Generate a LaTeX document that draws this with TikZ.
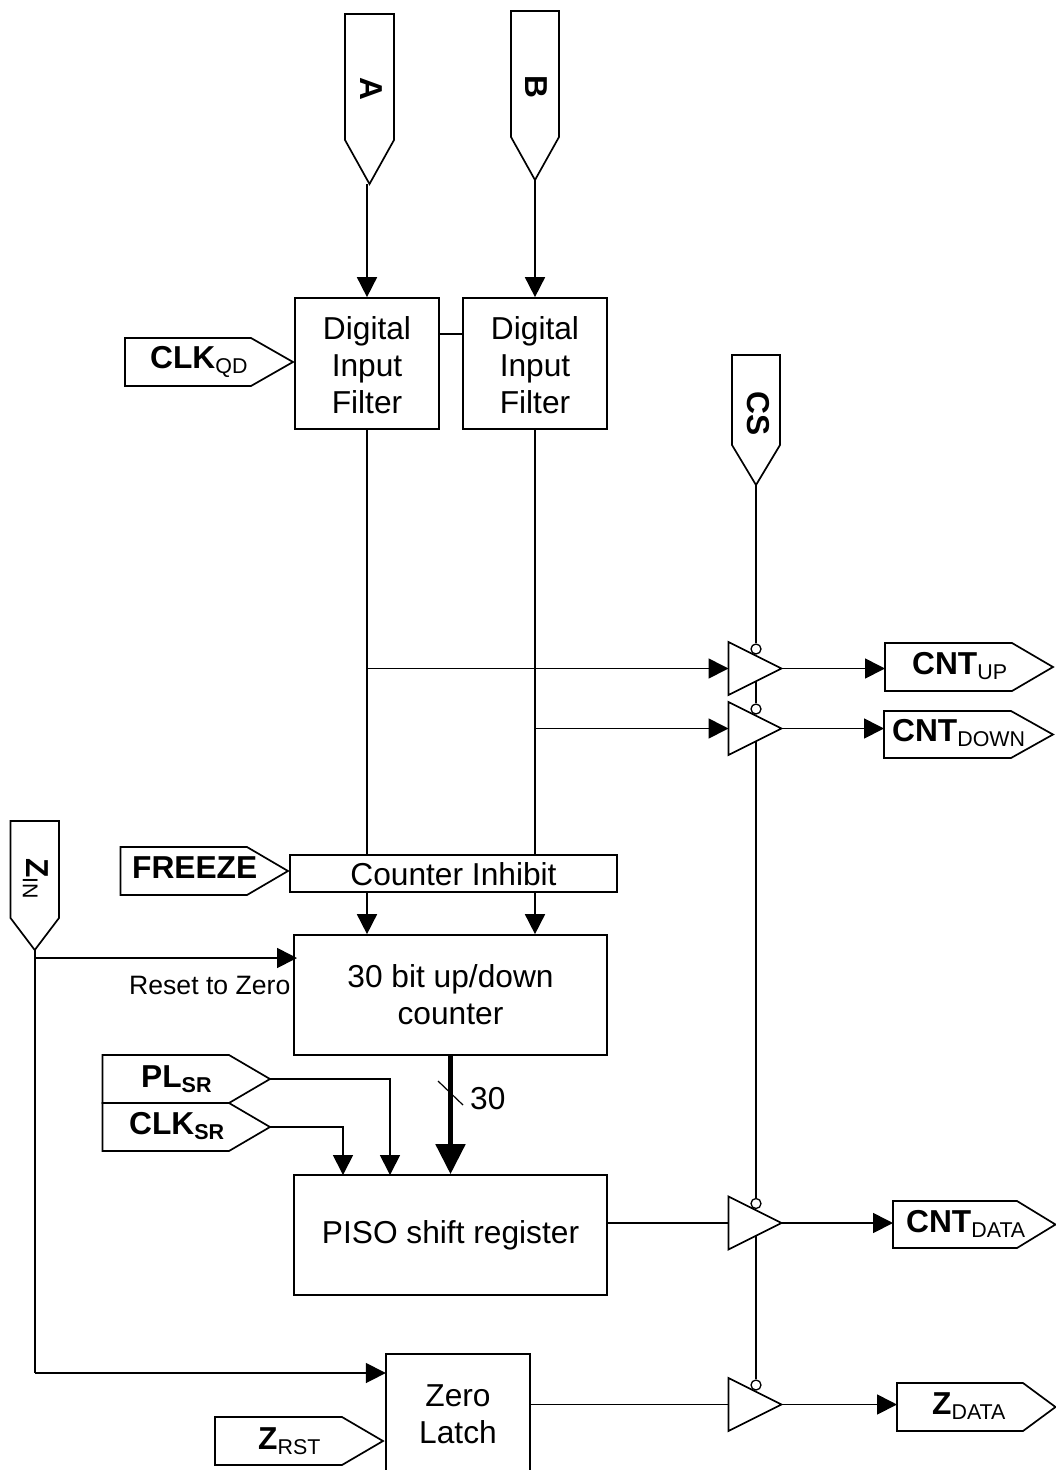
\documentclass[tikz,border=0pt]{standalone}
\usepackage{fontspec}
\setmainfont{Liberation Sans}
\usetikzlibrary{arrows.meta,calc}
\newcommand{\bigf}{\fontsize{31.7}{37}\selectfont}
\newcommand{\midf}{\fontsize{26.6}{32}\selectfont}
\newcommand{\subf}{\fontsize{21.4}{24}\selectfont}
\newcommand{\bsubf}{\fontsize{21.5}{24}\selectfont\bfseries}
\newcommand{\nudge}{\rule{0pt}{26.5pt}}
% label with subscript
\newcommand{\lbl}[2]{\bigf\textbf{#1}\raisebox{-5pt}{\subf #2}}
\newcommand{\blbl}[2]{\bigf\textbf{#1}\raisebox{-5pt}{\bsubf #2}}
% horizontal pentagon: name, left, top, shoulder, tip, bottom
\newcommand{\hsig}[6]{%
  \draw[sigline] (#2,#3) -- (#4,#3) -- (#5,{(#3+#6)/2}) -- (#4,#6) -- (#2,#6) -- cycle;
  \coordinate (#1-tip) at (#5,{(#3+#6)/2});
  \coordinate (#1-w) at (#2,{(#3+#6)/2});}
% vertical pentagon: name, left, top, shoulder, tip, right
\newcommand{\vsig}[6]{%
  \draw[sigline] (#2,#3) -- (#6,#3) -- (#6,#4) -- ({(#2+#6)/2},#5) -- (#2,#4) -- cycle;
  \coordinate (#1-tip) at ({(#2+#6)/2},#5);}
% buffer: name, centre y
\newcommand{\buf}[2]{%
  \draw[sigline] (728.5,{#2-26.5}) -- (781.5,#2) -- (728.5,{#2+26.5}) -- cycle;
  \coordinate (#1-in) at (728.5,#2);
  \coordinate (#1-out) at (781.5,#2);
  \coordinate (#1-bot) at (756,{#2+13});
  \node[bubble] (#1-en) at (756,{#2-19.5}) {};}
\tikzset{
  sigline/.style={draw=black,line width=1.7pt,fill=white,line join=miter},
  wire/.style={draw=black,line width=1.7pt},
  arr/.style={wire,-{Triangle[length=20pt,width=20pt]}},
  bus/.style={draw=black,line width=5pt,-{Triangle[length=30pt,width=29pt]}},
  block/.style={draw=black,line width=1.7pt,rectangle,inner sep=0pt,align=center,font=\bigf},
  txt/.style={inner sep=0pt,anchor=base west},
  vtxt/.style={inner sep=0pt,anchor=base west,rotate=-90},
  bubble/.style={draw=black,line width=1.3pt,circle,fill=white,inner sep=0pt,minimum size=10pt},
}
\begin{document}
\begin{tikzpicture}[x=1pt,y=-1pt]
\useasboundingbox (0,0) rectangle (1056,1470);

% blocks
\node[block,minimum width=144pt,minimum height=131pt] (f1) at (367,363.5) {\nudge Digital\\Input\\Filter};
\node[block,minimum width=144pt,minimum height=131pt] (f2) at (535,363.5) {\nudge Digital\\Input\\Filter};
\node[block,minimum width=327pt,minimum height=37pt] (inh) at (453.5,873.5) {\rule{0pt}{24.5pt}Counter Inhibit};
\node[block,minimum width=313pt,minimum height=120pt] (cnt) at (450.5,995) {30 bit up/down\\counter};
\node[block,minimum width=313pt,minimum height=120pt] (piso) at (450.5,1235) {PISO shift register};
\node[inner sep=0pt,align=center,font=\bigf,minimum width=144pt,minimum height=116pt] (latch) at (458,1412) {\nudge Zero\\Latch};
\draw[wire] (latch.south west) |- (latch.north east) -- (latch.south east);

% signal pentagons
\vsig{a}{345}{14}{140}{184}{394}
\vsig{b}{511}{11}{137}{180}{559}
\vsig{cs}{732}{355}{445}{485}{780}
\vsig{zin}{10.5}{821}{918}{950}{59}
\hsig{clkqd}{125}{338}{251}{293}{386}
\hsig{frz}{120.5}{847}{247}{288}{895}
\hsig{pl}{102.5}{1055}{229}{270}{1103}
\hsig{clksr}{102.5}{1103}{229}{270}{1151}
\hsig{zrst}{215}{1417}{342}{383}{1465}
\hsig{up}{885}{643}{1012}{1053}{691}
\hsig{down}{884}{711}{1011}{1053}{758}
\hsig{cdata}{893}{1201}{1017}{1055.5}{1248}
\hsig{zdata}{897}{1383}{1023}{1055.5}{1431}

% signal labels
\node[vtxt,font=\bigf\bfseries] (la) at (360,77) {A};
\node[vtxt,font=\bigf\bfseries] (lb) at (525,75) {B};
\node[vtxt,font=\bigf\bfseries] (lcs) at (747,391) {CS};
\node[vtxt] (lzin) at (27,858) {\bigf\textbf{Z}\raisebox{-4pt}{\subf IN}};
\node[txt] (lclk) at (150,368) {\lbl{CLK}{QD}};
\node[txt] (lfrz) at (132,878) {\bigf\textbf{FREEZE}};
\node[txt] (lpl) at (141,1087) {\blbl{PL}{SR}};
\node[txt] (lclksr) at (129,1134) {\blbl{CLK}{SR}};
\node[txt] (lzrst) at (258,1449) {\lbl{Z}{RST}};
\node[txt] (lup) at (912,674) {\lbl{CNT}{UP}};
\node[txt] (ldown) at (892,741) {\lbl{CNT}{DOWN}};
\node[txt] (lcdata) at (906,1232) {\lbl{CNT}{DATA}};
\node[txt] (lzdata) at (932,1414) {\lbl{Z}{DATA}};
\node[txt,font=\midf] (reset) at (129,994) {Reset to Zero};
\node[txt,font=\bigf] (n30) at (470,1109) {30};

% buffers
\buf{t1}{668.5}
\buf{t2}{728.5}
\buf{t3}{1223}
\buf{t4}{1404.5}

% inputs to filters
\draw[arr] (f1.north |- a-tip) -- (f1.north);
\draw[arr] (b-tip) -- (b-tip |- f2.north);
\draw[wire] ([yshift=29.5pt]f1.east) -- ([yshift=29.5pt]f2.west);

% filters to counter inhibit and counter
\draw[wire] (f1.south) -- (f1.south |- inh.north);
\draw[wire] (f2.south) -- (f2.south |- inh.north);
\draw[arr] (f1.south |- inh.south) -- (f1.south |- cnt.north);
\draw[arr] (f2.south |- inh.south) -- (f2.south |- cnt.north);

% branches to buffers
\draw[arr] (f1.south |- t1-in) -- (t1-in);
\draw[arr] (f2.south |- t2-in) -- (t2-in);
\draw[arr] (t1-out) -- (up-w |- t1-out);
\draw[arr] (t2-out) -- (down-w |- t2-out);
\draw[arr] (t3-out) -- (cdata-w |- t3-out);
\draw[arr] (t4-out) -- (zdata-w |- t4-out);
\draw[wire] (piso.east |- t3-in) -- (t3-in);
\draw[wire] (latch.east |- t4-in) -- (t4-in);

% chip select chain
\draw[wire] (cs-tip) -- (t1-en.north);
\draw[wire] (t1-bot) -- (t2-en.north);
\draw[wire] (t2-bot) -- (t3-en.north);
\draw[wire] (t3-bot) -- (t4-en.north);

% Z_IN
\coordinate (zcorner) at (34.75,1373);
\coordinate (zbranch) at (34.75,958);
\draw[wire] (zin-tip) -- (zcorner);
\draw[arr] (zcorner) -- (latch.west |- zcorner);
\draw[arr] (zbranch) -- (297,958);

% shift register inputs
\draw[bus] (cnt.south) -- (piso.north);
\draw[wire,line width=1.2pt] (438,1081) -- (463,1105);
\draw[arr] (pl-tip) -| (390,1175);
\draw[arr] (clksr-tip) -| (343,1175);
\end{tikzpicture}
\end{document}
